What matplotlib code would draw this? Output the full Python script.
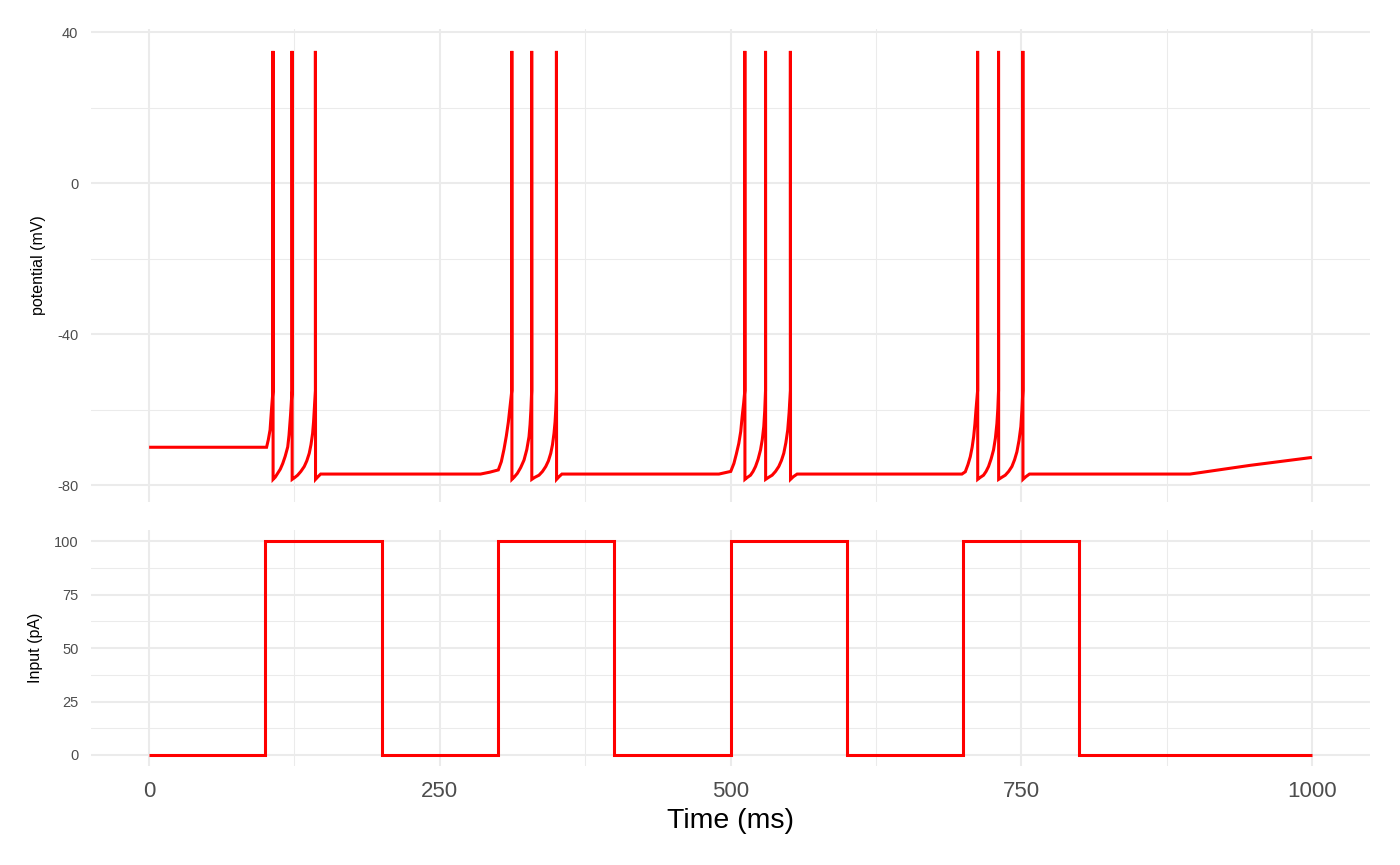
import matplotlib
matplotlib.use("Agg")
import matplotlib.pyplot as plt
from matplotlib.ticker import MultipleLocator

plt.rcParams['font.family'] = ['Liberation Sans', 'DejaVu Sans']
plt.rcParams['axes.unicode_minus'] = False

# membrane potential trace (ms, mV)
v_time = [
    # rest, then burst 1
    0, 101, 102.5, 104, 105.4, 106.5, 106.5, 106.6,
    108.5, 110.6, 112.8, 114.9, 117.0, 119.2, 120.3, 121.6, 122.9, 122.9, 123.0,
    125.3, 127.7, 130.5, 133.4, 135.6, 137.7, 139.2, 140.6, 141.4, 142.0, 143.0, 143.0, 143.1,
    145.2, 147.5, 285, 293,
    # burst 2
    300.3, 302.9, 305.2, 307.2, 308.9, 310.3, 311.2, 311.9, 311.9, 312.0,
    314.0, 316.7, 319.5, 322.4, 324.8, 326.7, 327.6, 328.3, 329.0, 329.0, 329.1,
    331.5, 335.3, 338.3, 341.1, 343.4, 345.4, 346.9, 348.2, 349.1, 349.7, 350.3, 350.3, 350.4,
    352.5, 355.0, 490,
    # burst 3
    500.2, 502.9, 505.0, 507.1, 508.8, 510.0, 511.3, 512.3, 512.3, 512.4,
    514.4, 517.2, 519.4, 521.5, 523.7, 525.8, 527.3, 528.6, 529.4, 530.1, 530.1, 530.2,
    532.6, 535.8, 538.7, 541.5, 543.8, 545.8, 547.6, 549.2, 550.4, 551.5, 551.5, 551.6,
    554.0, 557.3, 699,
    # burst 4
    701.9, 704.2, 706.2, 707.8, 709.1, 710.2, 711.1, 712.5, 712.5, 712.6,
    714.7, 717.6, 719.8, 721.9, 724.1, 726.2, 727.8, 729.1, 729.9, 730.5, 730.5, 730.6,
    733.1, 736.3, 739.2, 742.0, 744.3, 746.3, 748.1, 749.7, 750.6, 751.4, 751.4, 751.5,
    754.0, 757.1, 895.2, 946.7, 1000,
]
v_mv = [
    -70, -70, -68, -65.4, -59.3, -55, 35, -78.5,
    -77.9, -76.9, -75.8, -74.3, -72.4, -69.9, -66.8, -61.5, -55, 35, -78.5,
    -78.0, -77.4, -76.4, -75.1, -73.6, -71.6, -69.3, -66.3, -63.3, -60.1, -55, 35, -78.5,
    -77.8, -77.1, -77.1, -76.6,
    -76.0, -73.8, -70.5, -67.0, -63.4, -59.6, -57.2, -55, 35, -78.5,
    -77.9, -76.9, -75.4, -73.4, -70.6, -67.2, -64.0, -60.3, -55, 35, -78.5,
    -78.0, -77.4, -76.4, -75.1, -73.6, -71.6, -69.3, -66.3, -63.3, -60.1, -55, 35, -78.5,
    -77.8, -77.1, -77.1,
    -76.4, -74.3, -71.8, -69.0, -65.8, -61.9, -58.3, -55, 35, -78.5,
    -78.0, -77.4, -76.4, -75.1, -73.2, -70.7, -68.0, -64.5, -60.5, -55, 35, -78.5,
    -78.0, -77.4, -76.4, -75.1, -73.5, -71.6, -68.8, -65.4, -60.8, -55, 35, -78.5,
    -77.8, -77.1, -77.1,
    -76.5, -74.6, -72.5, -70.0, -67.2, -63.8, -60.1, -55, 35, -78.5,
    -78.0, -77.4, -76.4, -75.1, -73.1, -70.7, -67.6, -63.7, -59.8, -55, 35, -78.5,
    -78.0, -77.4, -76.4, -75.1, -73.3, -71.2, -68.2, -64.5, -60.2, -55, 35, -78.5,
    -77.8, -77.1, -77.1, -74.8, -72.7,
]

# input current steps (ms, pA)
i_time = [0, 100, 100, 200, 200, 300, 300, 400, 400, 500, 500, 600, 600, 700, 700, 800, 800, 1000]
i_pa = [0, 0, 100, 100, 0, 0, 100, 100, 0, 0, 100, 100, 0, 0, 100, 100, 0, 0]

red = '#FF0000'
grid_col = '#EBEBEB'
tick_col = '#4D4D4D'

fig = plt.figure(figsize=(14, 8.65), dpi=100)
ax1 = fig.add_axes([0.065, 0.4201, 0.9136, 0.5459])
ax2 = fig.add_axes([0.065, 0.1148, 0.9136, 0.2721])

for ax in (ax1, ax2):
    for s in ax.spines.values():
        s.set_visible(False)
    ax.set_xlim(-50, 1050)
    ax.xaxis.set_major_locator(MultipleLocator(250))
    ax.xaxis.set_minor_locator(MultipleLocator(125))
    ax.grid(which='major', color=grid_col, linewidth=1.5)
    ax.grid(which='minor', color=grid_col, linewidth=0.75)
    ax.set_axisbelow(True)
    ax.tick_params(which='both', length=0)
    ax.tick_params(axis='y', labelsize=10.5, labelcolor=tick_col, pad=9)

ax1.plot(v_time, v_mv, color=red, linewidth=2.2, solid_joinstyle='miter', solid_capstyle='butt')
ax1.set_ylim(-84.4, 40.7)
ax1.yaxis.set_major_locator(MultipleLocator(40))
ax1.yaxis.set_minor_locator(MultipleLocator(20))
ax1.tick_params(axis='x', labelbottom=False)
ax1.set_ylabel('potential (mV)', fontsize=11.5, labelpad=8)

ax2.plot(i_time, i_pa, color=red, linewidth=2.2, solid_joinstyle='miter', solid_capstyle='butt')
ax2.set_ylim(-5, 105)
ax2.yaxis.set_major_locator(MultipleLocator(25))
ax2.yaxis.set_minor_locator(MultipleLocator(12.5))
ax2.tick_params(axis='x', labelsize=16, labelcolor=tick_col, pad=11)
ax2.set_ylabel('Input (pA)', fontsize=11.5, labelpad=8)
ax2.set_xlabel('Time (ms)', fontsize=20.5, labelpad=4)

fig.savefig('out.png', dpi=100)
